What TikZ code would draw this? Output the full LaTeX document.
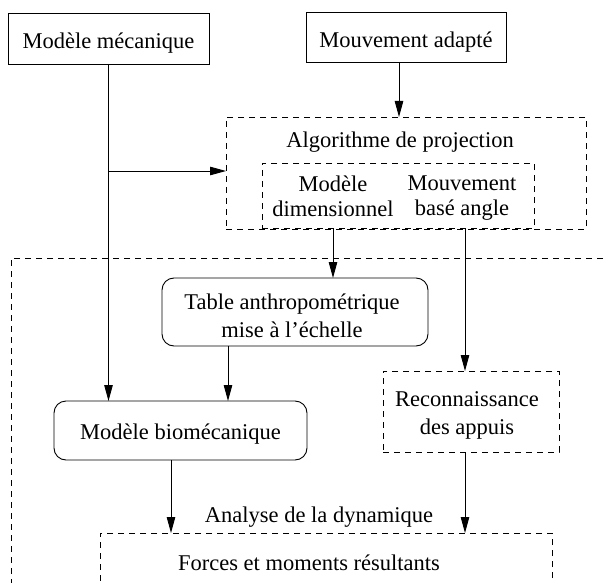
\documentclass[tikz,border=0pt]{standalone}
\usepackage{fontspec}
\setmainfont{Liberation Serif}
\usetikzlibrary{arrows.meta}
\begin{document}
\begin{tikzpicture}[x=1pt,y=-1pt,
  every node/.style={font=\fontsize{22.5}{28}\selectfont, inner sep=0pt, outer sep=0pt},
  solidbox/.style={draw, line width=0.9pt, rectangle, text height=21pt, text depth=0pt},
  roundbox/.style={draw, line width=0.9pt, rectangle, rounded corners=12pt},
  dashbox/.style={draw, line width=0.9pt, rectangle, dash pattern=on 6pt off 5pt},
  conn/.style={line width=0.9pt, -{Triangle[length=16pt,width=8.5pt]}},
  txt/.style={align=center}]
\clip (0,0) rectangle (605,583);
% top boxes
\node[solidbox, minimum width=201pt, minimum height=51pt] (mm) at (108.5,38.5) {Modèle mécanique};
\node[solidbox, minimum width=200pt, minimum height=50pt] (ma) at (406,37) {Mouvement adapté};
% projection algorithm
\node[dashbox, minimum width=360pt, minimum height=112pt] (algo) at (406,173) {};
\node[anchor=base] (algotitle) at (400,147) {Algorithme de projection};
\node[dashbox, minimum width=272pt, minimum height=65pt] (inner) at (398,195.5) {};
\node[txt, font=\fontsize{22.5}{25}\selectfont] (mdtxt) at (333,195.8) {Modèle\\dimensionnel};
\node[txt, font=\fontsize{22.5}{25}\selectfont] (mvtxt) at (462,198.5) {Mouvement\\basé angle};
% large system box
\node[dashbox, minimum width=609pt, minimum height=342pt] (sys) at (315.5,429) {};
% table
\node[roundbox, minimum width=266pt, minimum height=68pt] (tab) at (295,312) {};
\node[txt] (tabtxt) at (292,315.3) {Table anthropométrique\\mise à l’échelle};
% biomechanical model
\node[roundbox, text height=17pt, text depth=0pt, minimum width=253pt, minimum height=59pt] (mb) at (180.5,430.5) {Modèle biomécanique};
% recognition
\node[dashbox, minimum width=176pt, minimum height=81pt] (reco) at (471,411.5) {};
\node[txt] (recotxt) at (467,415.8) {Reconnaissance\\des appuis};
% dynamics
\node[dashbox, minimum width=452pt, minimum height=77pt] (dyn) at (326,571.5) {};
\node[anchor=base] (dyntitle) at (319,522) {Analyse de la dynamique};
\node[anchor=base] (forces) at (309,570) {Forces et moments résultants};
% connectors
\coordinate (branch) at ([yshift=-107pt]mm.south);
\draw[conn] (mm.south) -- (mm.south |- mb.north);
\draw[conn] (branch) -- (branch -| algo.west);
\draw[conn] ([xshift=-7pt]ma.south) -- ([xshift=-7pt]ma.south |- algo.north);
\draw[conn] (mdtxt |- algo.south) -- (mdtxt |- tab.north);
\draw[conn] ([xshift=-6pt]reco.north |- algo.south) -- ([xshift=-6pt]reco.north);
\draw[conn] ([xshift=-67pt]tab.south) -- ([xshift=-67pt]tab.south |- mb.north);
\draw[conn] ([xshift=-9.5pt]mb.south) -- ([xshift=-9.5pt]mb.south |- dyn.north);
\draw[conn] ([xshift=-6pt]reco.south) -- ([xshift=-6pt]reco.south |- dyn.north);
\end{tikzpicture}
\end{document}
